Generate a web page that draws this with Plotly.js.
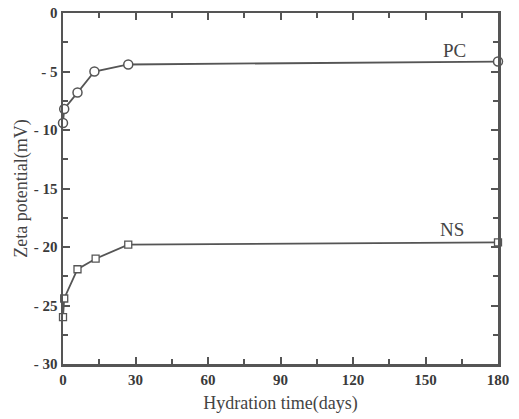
<!DOCTYPE html>
<html>
<head>
<meta charset="utf-8">
<script src="https://cdn.plot.ly/plotly-3.0.1.min.js"></script>
<style>html,body{margin:0;padding:0;background:#fff;}#chart{width:519px;height:419px;}</style>
</head>
<body>
<div id="chart"></div>
<script>
// Data
const daysPC = [0, 0.5, 6, 13, 27, 180];
const zetaPC = [-9.4, -8.2, -6.8, -5.0, -4.4, -4.15];
const daysNS = [0, 0.5, 6, 13.5, 27, 180];
const zetaNS = [-26.0, -24.4, -21.9, -21.0, -19.8, -19.6];
const xTickVals = [0, 30, 60, 90, 120, 150, 180];
const xTickText = ["0", "30", "60", "90", "120", "150", "180"];
const yTickVals = [0, -5, -10, -15, -20, -25, -30];
const yTickText = ["0", "- 5", "- 10", "- 15", "- 20", "- 25", "- 30"];
const seriesLabels = ["PC", "NS"];

const lineColor = "#555";
const bold = arr => arr.map(t => "<b>" + t + "</b>");
const traces = [
  {x: daysPC, y: zetaPC, name: seriesLabels[0], type: "scatter", mode: "lines+markers", cliponaxis: false,
   line: {color: lineColor, width: 1.8},
   marker: {symbol: "circle", size: 9, color: "#fff", line: {color: lineColor, width: 1.5}}},
  {x: daysNS, y: zetaNS, name: seriesLabels[1], type: "scatter", mode: "lines+markers", cliponaxis: false,
   line: {color: lineColor, width: 1.8},
   marker: {symbol: "square", size: 7, color: "#fff", line: {color: lineColor, width: 1.3}}}
];

const tickFont = {family: "Liberation Serif, Times New Roman, serif", size: 15, color: "#3a3a3a"};
const titleFont = {family: "Liberation Serif, Times New Roman, serif", size: 18, color: "#444"};

const layout = {
  width: 519, height: 419,
  margin: {l: 63, r: 21, t: 13, b: 55},
  paper_bgcolor: "#fff", plot_bgcolor: "#fff",
  showlegend: false,
  xaxis: {
    range: [0, 180], tickvals: xTickVals, ticktext: bold(xTickText),
    ticks: "inside", ticklen: 7, tickwidth: 2, tickcolor: lineColor,
    showline: true, linecolor: lineColor, linewidth: 2.5, mirror: "allticks",
    showgrid: false, zeroline: false,
    tickfont: tickFont,
    minor: {ticks: "inside", dtick: 15, ticklen: 5, tickwidth: 2, tickcolor: lineColor},
    title: {text: "Hydration time(days)", font: titleFont, standoff: 10}
  },
  yaxis: {
    range: [-30, 0], tickvals: yTickVals, ticktext: bold(yTickText),
    ticks: "inside", ticklen: 7, tickwidth: 2, tickcolor: lineColor,
    showline: true, linecolor: lineColor, linewidth: 2.5, mirror: "allticks",
    showgrid: false, zeroline: false,
    tickfont: tickFont,
    minor: {ticks: "inside", dtick: 2.5, ticklen: 5, tickwidth: 2, tickcolor: lineColor},
    title: {text: "Zeta potential(mV)", font: titleFont, standoff: 2}
  },
  annotations: [
    {x: 162, y: -3.2, text: seriesLabels[0], showarrow: false, xref: "x", yref: "y",
     font: {family: "Liberation Serif, Times New Roman, serif", size: 19, color: "#444"}},
    {x: 161, y: -18.5, text: seriesLabels[1], showarrow: false, xref: "x", yref: "y",
     font: {family: "Liberation Serif, Times New Roman, serif", size: 19, color: "#444"}}
  ]
};

Plotly.newPlot("chart", traces, layout, {displayModeBar: false, staticPlot: true});
</script>
</body>
</html>
